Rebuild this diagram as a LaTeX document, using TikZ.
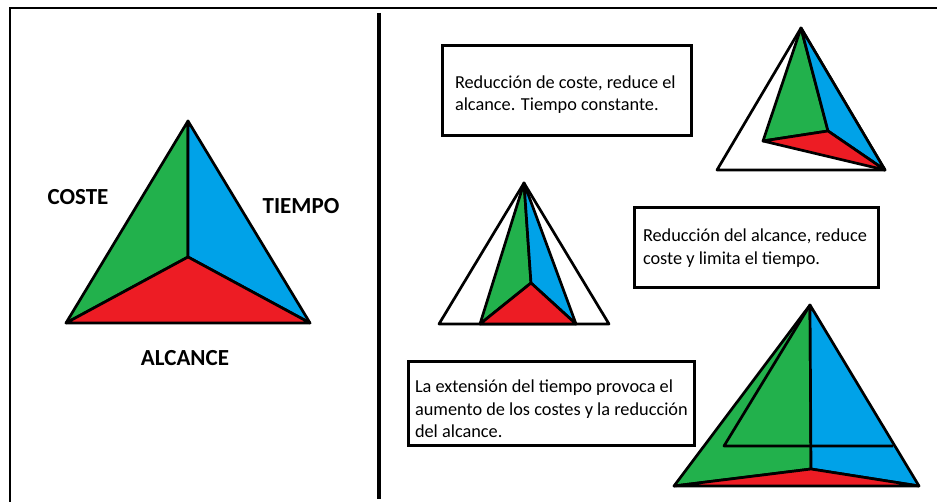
\documentclass[tikz,border=0pt]{standalone}
\usepackage{fontspec}
\setmainfont{Carlito}
\definecolor{costegreen}{HTML}{22B14C}
\definecolor{tiempoblue}{HTML}{00A2E8}
\definecolor{alcancered}{HTML}{ED1C24}
\tikzset{
	edge/.style={draw=black,line width=2.7pt,line join=round},
	outline/.style={edge,fill=white},
	textbox/.style={draw=black,line width=3pt,align=flush left,font=\fontsize{18.3}{22.5}\selectfont},
	title/.style={font=\fontsize{23}{26}\selectfont\bfseries}
}
\begin{document}
\begin{tikzpicture}[x=1pt,y=-1pt]
	\useasboundingbox (0,0) rectangle (937,502);
	\path[draw=black,line width=2pt] (10,502)--(10,8)--(937,8);
	\path[draw=black,line width=4pt] (379,13)--(379,499);
	% base triangle
	\begin{scope}
		\coordinate (top) at (188,121);
		\coordinate (left) at (66,323);
		\coordinate (right) at (310,323);
		\coordinate (mid) at (188,257);
		\path[edge,fill=costegreen] (top)--(left)--(mid)--cycle;
		\path[edge,fill=tiempoblue] (top)--(right)--(mid)--cycle;
		\path[edge,fill=alcancered] (left)--(right)--(mid)--cycle;
		\node[title] (coste) at (78,197) {COSTE};
		\node[title] (tiempo) at (301,206) {TIEMPO};
		\node[title] (alcance) at (185,358) {ALCANCE};
	\end{scope}
	% less cost
	\begin{scope}
		\coordinate (topa) at (801,28);
		\coordinate (lefta) at (763,141);
		\coordinate (righta) at (885,170);
		\coordinate (mida) at (828,131);
		\path[outline] (topa)--(717,170)--(righta)--cycle;
		\path[edge,fill=costegreen] (topa)--(lefta)--(mida)--cycle;
		\path[edge,fill=tiempoblue] (topa)--(righta)--(mida)--cycle;
		\path[edge,fill=alcancered] (lefta)--(righta)--(mida)--cycle;
		\node[textbox,minimum width=249,minimum height=90,text width=223] (boxa) at (566.5,91) {\rule{0pt}{20pt}Reducción de coste, reduce el\\alcance. Tiempo constante.};
	\end{scope}
	% less scope
	\begin{scope}
		\coordinate (topb) at (524,183);
		\coordinate (leftb) at (480,324);
		\coordinate (rightb) at (576,324);
		\coordinate (midb) at (531,283);
		\path[outline] (topb)--(439,324)--(609,324)--cycle;
		\path[edge,fill=costegreen] (topb)--(leftb)--(midb)--cycle;
		\path[edge,fill=tiempoblue] (topb)--(rightb)--(midb)--cycle;
		\path[edge,fill=alcancered] (leftb)--(rightb)--(midb)--cycle;
		\node[textbox,minimum width=244,minimum height=80,text width=226] (boxb) at (756,248) {Reducción del alcance, reduce\\coste y limita el tiempo.};
	\end{scope}
	% more time
	\begin{scope}
		\coordinate (topc) at (810,305);
		\coordinate (leftc) at (674,486);
		\coordinate (rightc) at (919,486);
		\coordinate (midc) at (811,469);
		\path[edge,fill=costegreen] (topc)--(leftc)--(midc)--cycle;
		\path[edge,fill=tiempoblue] (topc)--(rightc)--(midc)--cycle;
		\path[edge,fill=alcancered] (leftc)--(rightc)--(midc)--cycle;
		\path[edge] (topc)--(724,446)--(893,446);
		\node[textbox,minimum width=286,minimum height=83,text width=272] (boxc) at (551,403.5) {\rule{0pt}{24pt}La extensión del tiempo provoca el\\\mbox{aumento de los costes y la reducción}\\del alcance.};
	\end{scope}
\end{tikzpicture}
\end{document}
